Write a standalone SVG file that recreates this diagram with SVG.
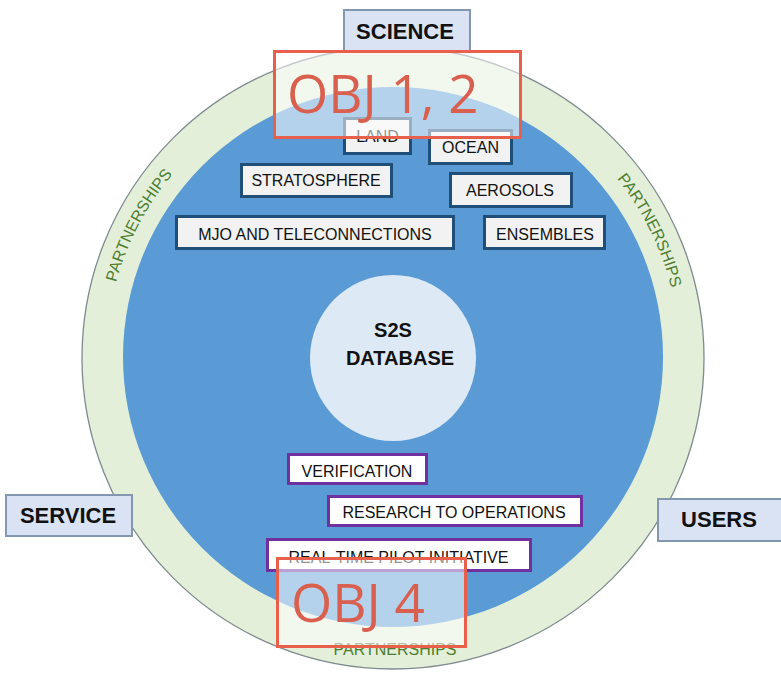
<svg xmlns="http://www.w3.org/2000/svg" width="781" height="677" viewBox="0 0 781 677">
  <style>
    .lbl{font-family:"Liberation Sans",Arial,sans-serif;font-size:16px;fill:#111;text-anchor:middle}
    .big{font-family:"Liberation Sans",Arial,sans-serif;font-size:22px;font-weight:bold;fill:#111;text-anchor:middle}
    .topic rect{fill:#f2f2f2;stroke:#1f4e79;stroke-width:3}
    .act rect{fill:#ffffff;stroke:#7030a0;stroke-width:3}
    .hdr rect{fill:#dae3f3;stroke:#8497b0;stroke-width:2}
    .part{font-family:"Liberation Sans",Arial,sans-serif;font-size:16px;fill:#4e7d2f}
    .obj rect{fill:#ffffff;fill-opacity:0.55;stroke:#e8604c;stroke-width:3}
    .obj text{font-family:"Open Sans","Liberation Sans",sans-serif;font-size:53px;fill:#d9604f}
  </style>
  <defs>
    <path id="ringpath" d="M106,358 A287,287 0 1 1 680,358 A287,287 0 1 1 106,358"/>
  </defs>
  <rect width="781" height="677" fill="#ffffff"/>

  <g id="ring">
    <circle cx="393" cy="358" r="311" fill="#e3efd9" stroke="#7f8a8f" stroke-width="1.3"/>
    <text class="part" text-anchor="middle"><textPath href="#ringpath" startOffset="138">PARTNERSHIPS</textPath></text>
    <text class="part" text-anchor="middle"><textPath href="#ringpath" startOffset="769">PARTNERSHIPS</textPath></text>
    <text class="part" x="395" y="655" text-anchor="middle">PARTNERSHIPS</text>
  </g>
  <g id="core">
    <circle cx="393" cy="357" r="270" fill="#5b9bd5"/>
  </g>
  <g id="database">
    <circle cx="393" cy="358" r="83" fill="#dde9f5"/>
    <text class="big" x="393" y="337" style="font-size:20px">S2S</text>
    <text class="big" x="400" y="365" style="font-size:20px">DATABASE</text>
  </g>

  <g id="connectors"></g>

  <g id="land" class="topic"><rect x="344.5" y="118.5" width="66" height="35"/><text class="lbl" x="377.5" y="142">LAND</text></g>
  <g id="ocean" class="topic"><rect x="429.5" y="130.5" width="82" height="33"/><text class="lbl" x="470.5" y="153">OCEAN</text></g>
  <g id="stratosphere" class="topic"><rect x="241.5" y="164.5" width="150" height="32"/><text class="lbl" x="316" y="186">STRATOSPHERE</text></g>
  <g id="aerosols" class="topic"><rect x="450.5" y="173.5" width="121" height="33"/><text class="lbl" x="510" y="196">AEROSOLS</text></g>
  <g id="mjo" class="topic"><rect x="176.5" y="216.5" width="277" height="32"/><text class="lbl" x="315" y="240">MJO AND TELECONNECTIONS</text></g>
  <g id="ensembles" class="topic"><rect x="484.5" y="216.5" width="120" height="32"/><text class="lbl" x="545" y="240">ENSEMBLES</text></g>

  <g id="verification" class="act"><rect x="288.5" y="454.5" width="138" height="29"/><text class="lbl" x="357" y="477">VERIFICATION</text></g>
  <g id="r2o" class="act"><rect x="328.5" y="496.5" width="253" height="29"/><text class="lbl" x="454" y="518">RESEARCH TO OPERATIONS</text></g>
  <g id="realtime" class="act"><rect x="267.5" y="539.5" width="263" height="31"/><text class="lbl" x="398.5" y="563">REAL-TIME PILOT INITIATIVE</text></g>

  <g id="science" class="hdr"><rect x="344" y="10" width="126" height="41"/><text class="big" x="405" y="39">SCIENCE</text></g>
  <g id="service" class="hdr"><rect x="6" y="495" width="126" height="41"/><text class="big" x="68" y="523">SERVICE</text></g>
  <g id="users" class="hdr"><rect x="658" y="499" width="130" height="42"/><text class="big" x="719" y="527">USERS</text></g>

  <g id="obj12" class="obj"><rect x="274.5" y="51.5" width="246" height="86"/><text x="287" y="113">OBJ 1, 2</text></g>
  <g id="obj4" class="obj"><rect x="277.5" y="558.5" width="188" height="88"/><text x="291" y="622">OBJ 4</text></g>
</svg>
